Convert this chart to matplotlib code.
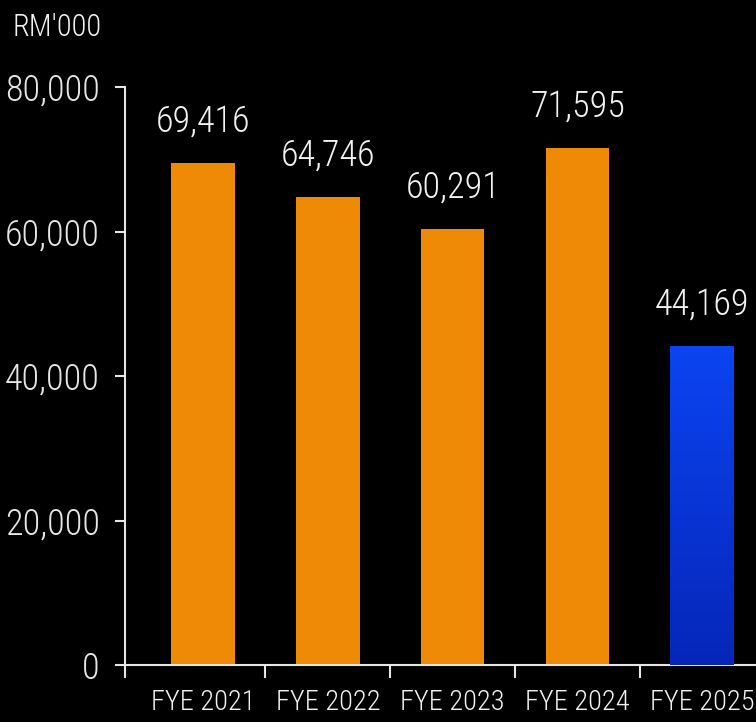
import matplotlib.pyplot as plt
import numpy as np
from matplotlib.colors import LinearSegmentedColormap

years = ['FYE 2021', 'FYE 2022', 'FYE 2023', 'FYE 2024', 'FYE 2025']
values = [69416, 64746, 60291, 71595, 44169]
y_ticks = [0, 20000, 40000, 60000, 80000]

plt.rcParams['font.family'] = ['Roboto Condensed', 'Open Sans Condensed', 'DejaVu Sans']
plt.rcParams['font.weight'] = 'light'

fig = plt.figure(figsize=(7.56, 7.22), dpi=100, facecolor='black')
ax = fig.add_axes([0.1653, 0.0789, 0.8347, 0.8006], facecolor='black')

x = np.arange(len(years))
colors = ['#ee8a06'] * 4 + ['#0a3ee8']
bars = ax.bar(x, values, width=0.51, color=colors, zorder=2)

# gradient on the last bar
blue = LinearSegmentedColormap.from_list('blue', ['#0626b8', '#0b44f2'])
b = bars[-1]
grad = np.linspace(0, 1, 256).reshape(-1, 1)
im = ax.imshow(grad, cmap=blue, aspect='auto', origin='lower',
               extent=[b.get_x(), b.get_x() + b.get_width(), 0, b.get_height()], zorder=3)
im.set_clip_path(b)

for xi, v in zip(x, values):
    ax.annotate('{:,}'.format(v), (xi, v), xytext=(0, 17), textcoords='offset points',
                ha='center', va='bottom', color='#f2f2f2', fontsize=26)

ax.set_xlim(-0.625, 4.43)
ax.set_ylim(0, 80000)

ax.set_yticks(y_ticks)
ax.set_yticklabels(['{:,}'.format(t) for t in y_ticks])
ax.tick_params(axis='y', colors='#e6e6e6', labelsize=26, length=7, width=1.5, pad=11)

# boundary ticks on x axis, category labels as minor ticks
ax.set_xticks([-0.625, 0.5, 1.5, 2.5, 3.5])
ax.set_xticklabels([])
ax.tick_params(axis='x', which='major', colors='#e6e6e6', length=9, width=1.5)
ax.set_xticks(x, minor=True)
ax.set_xticklabels(years, minor=True)
ax.tick_params(axis='x', which='minor', length=0, labelsize=20.5, labelcolor='#f2f2f2', pad=17)

for s in ['top', 'right']:
    ax.spines[s].set_visible(False)
for s in ['left', 'bottom']:
    ax.spines[s].set_color('#e6e6e6')
    ax.spines[s].set_linewidth(1.5)

fig.text(0.016, 0.962, "RM'000", color='#f2f2f2', fontsize=22, ha='left', va='center')

plt.savefig('out.png', facecolor='black')
